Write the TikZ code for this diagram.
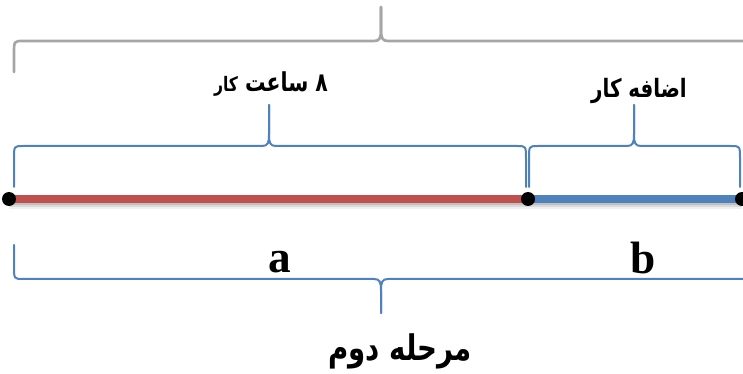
\documentclass[tikz,border=0pt]{standalone}
\usepackage{fontspec}
\setmainfont{Liberation Serif}
\newfontfamily\fa[Script=Arabic]{DejaVu Sans}
\TeXXeTstate=1
\usetikzlibrary{calc}
\definecolor{bgray}{HTML}{A6A6A6}
\definecolor{obLue}{HTML}{4F81BD}
\definecolor{oRed}{HTML}{C0504D}
\tikzset{
  graybrace/.style={draw=bgray,line width=2pt,line cap=round,line join=round},
  bluebrace/.style={draw=obLue,line width=1.5pt,line cap=round,line join=round},
  segline/.style={line width=5.8pt},
  dot/.style={circle,fill=black,inner sep=0pt,minimum size=10.5pt},
  falabel/.style={inner sep=0pt,font=\fa\bfseries},
  latlabel/.style={inner sep=0pt,font=\bfseries\fontsize{34}{36}\selectfont}
}
% #1 style, #2 x1, #3 x2, #4 tip x, #5 y of horizontal, #6 y of ends, #7 y of tip
\newcommand\hbrace[7]{%
  \pgfmathsetmacro\re{(#6>#5)?13:-13}%
  \pgfmathsetmacro\rt{(#7>#5)?1:-1}%
  \draw[#1] (#2,#6) -- (#2,#5+\re) .. controls (#2,#5) .. (#2+9,#5) -- (#4-7,#5)
     .. controls (#4-1,#5) and (#4,#5+\rt*3) .. (#4,#5+\rt*12) -- (#4,#7);
  \draw[#1] (#3,#6) -- (#3,#5+\re) .. controls (#3,#5) .. (#3-9,#5) -- (#4+7,#5)
     .. controls (#4+1,#5) and (#4,#5+\rt*3) .. (#4,#5+\rt*12) -- (#4,#7);
}
\begin{document}
\begin{tikzpicture}[x=0.75pt,y=-0.75pt]
\useasboundingbox (0,0) rectangle (743,374);
% braces
\hbrace{graybrace}{14}{752}{381}{41}{72}{7}
\hbrace{bluebrace}{14}{526}{269}{146}{187}{105}
\hbrace{bluebrace}{529}{740}{634}{146}{187}{105}
\hbrace{bluebrace}{14}{752}{381}{279}{245}{313}
% segment end points
\coordinate (p0) at (9,199);
\coordinate (p1) at (528,199);
\coordinate (p2) at (742,199);
% shadow
\foreach \o/\op in {2/0.12,4/0.09,6/0.06}{
  \draw[segline,black,opacity=\op] ($(p0)+(0,\o)$) -- ($(p2)+(0,\o)$);
}
\draw[segline,oRed] (p0) -- (p1);
\draw[segline,obLue] (p1) -- (p2);
\node[dot] (d0) at (p0) {};
\node[dot] (d1) at (p1) {};
\node[dot] (d2) at (p2) {};
% labels
\node[falabel] (t8) at (271,84) {\scalebox{0.9}[1.15]{\fontsize{17}{18}\selectfont\beginR ۸ ساعت {\fontsize{13}{14}\selectfont کار}\endR}};
\node[falabel] (tex) at (639,91) {\scalebox{0.9}[1.15]{\fontsize{16.5}{18}\selectfont\beginR اضافه کار\endR}};
\node[latlabel] (la) at (280,262) {a};
\node[latlabel] (lb) at (643,257.5) {b};
\node[falabel] (tdo) at (400,351) {\scalebox{0.9}[1.15]{\fontsize{23}{24}\selectfont\beginR مرحله دوم\endR}};
\end{tikzpicture}
\end{document}
